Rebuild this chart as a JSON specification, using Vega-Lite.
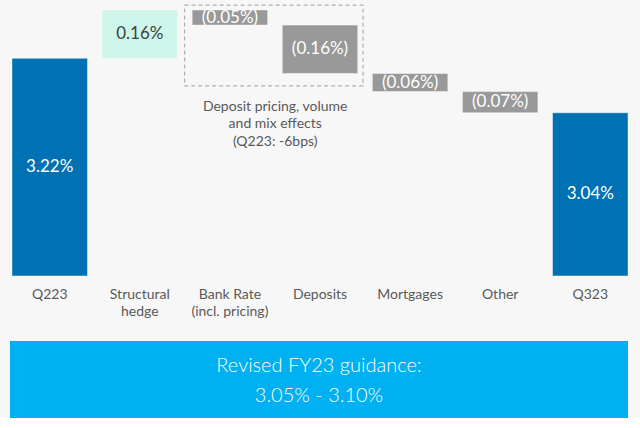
{
  "$schema": "https://vega.github.io/schema/vega-lite/v6.json",
  "background": "#f7f7f7",
  "padding": {"left": 10, "top": 0, "right": 10, "bottom": 0},
  "config": {"view": {"stroke": null}, "font": "Lato"},
  "spacing": 22,
  "vconcat": [
    {
      "width": 620,
      "height": 276,
      "data": {
        "values": [
          {"category": "Q223", "start": 2.5, "end": 3.22, "label": "3.22%", "kind": "total"},
          {"category": "Structural\nhedge", "start": 3.22, "end": 3.38, "label": "0.16%", "kind": "increase"},
          {"category": "Bank Rate\n(incl. pricing)", "start": 3.38, "end": 3.33, "label": "(0.05%)", "kind": "decrease"},
          {"category": "Deposits", "start": 3.33, "end": 3.17, "label": "(0.16%)", "kind": "decrease"},
          {"category": "Mortgages", "start": 3.17, "end": 3.11, "label": "(0.06%)", "kind": "decrease"},
          {"category": "Other", "start": 3.11, "end": 3.04, "label": "(0.07%)", "kind": "decrease"},
          {"category": "Q323", "start": 2.5, "end": 3.04, "label": "3.04%", "kind": "total"}
        ]
      },
      "layer": [
        {
          "mark": {"type": "bar", "stroke": "#ffffff", "strokeOpacity": 0.45, "strokeWidth": 1},
          "encoding": {
            "x": {
              "field": "category",
              "type": "nominal",
              "sort": null,
              "scale": {
                "domain": ["Q223", "Structural\nhedge", "Bank Rate\n(incl. pricing)", "Deposits", "Mortgages", "Other", "Q323"],
                "paddingInner": 0.162,
                "paddingOuter": 0.022
              },
              "axis": {
                "title": null,
                "domain": false,
                "ticks": false,
                "labelAngle": 0,
                "labelFontSize": 14,
                "labelColor": "#595959",
                "labelPadding": 11,
                "labelLineHeight": 17.5,
                "labelFont": "Lato",
                "labelExpr": "split(datum.label, '\\n')"
              }
            },
            "y": {
              "field": "end",
              "type": "quantitative",
              "scale": {"domain": [2.5, 3.413], "nice": false, "zero": false},
              "axis": null
            },
            "y2": {"field": "start"},
            "color": {
              "field": "kind",
              "type": "nominal",
              "scale": {"domain": ["total", "increase", "decrease"], "range": ["#0071b3", "#cdf5e9", "#999999"]},
              "legend": null
            }
          }
        },
        {
          "transform": [
            {"fold": ["start", "end"], "as": ["edge", "v"]},
            {"aggregate": [{"op": "mean", "field": "v", "as": "mid"}], "groupby": ["category", "label", "kind"]}
          ],
          "mark": {"type": "text", "fontSize": 17, "baseline": "middle", "align": "center"},
          "encoding": {
            "x": {"field": "category", "type": "nominal", "sort": null},
            "y": {"field": "mid", "type": "quantitative"},
            "text": {"field": "label"},
            "color": {"condition": {"test": "datum.kind === 'increase'", "value": "#404040"}, "value": "#ffffff"}
          }
        },
        {
          "data": {"values": [{"note": "Deposit pricing, volume\nand mix effects\n(Q223: -6bps)"}]},
          "mark": {"type": "rect", "fillOpacity": 0, "stroke": "#b0b0b0", "strokeWidth": 1.2, "strokeDash": [4, 3]},
          "encoding": {
            "x": {"datum": "Bank Rate\n(incl. pricing)", "bandPosition": -0.1},
            "x2": {"datum": "Deposits", "bandPosition": 1.07},
            "y": {"datum": 3.396},
            "y2": {"datum": 3.129}
          }
        },
        {
          "data": {"values": [{"note": "Deposit pricing, volume\nand mix effects\n(Q223: -6bps)"}]},
          "mark": {"type": "text", "lineBreak": "\n", "lineHeight": 17.5, "fontSize": 14, "color": "#595959", "baseline": "middle", "align": "center"},
          "encoding": {
            "x": {"datum": "Bank Rate\n(incl. pricing)", "bandPosition": 1.1},
            "y": {"datum": 3.06},
            "text": {"field": "note"}
          }
        }
      ]
    },
    {
      "width": 618,
      "height": 77,
      "data": {"values": [{"text": "Revised FY23 guidance:\n3.05% - 3.10%"}]},
      "layer": [
        {"mark": {"type": "rect", "color": "#00b0f0"}, "encoding": {}},
        {
          "mark": {"type": "text", "lineBreak": "\n", "fontSize": 20, "lineHeight": 30, "color": "#ffffff", "fontWeight": 300, "baseline": "middle", "align": "center", "dy": -14},
          "encoding": {"text": {"field": "text"}}
        }
      ]
    }
  ]
}
